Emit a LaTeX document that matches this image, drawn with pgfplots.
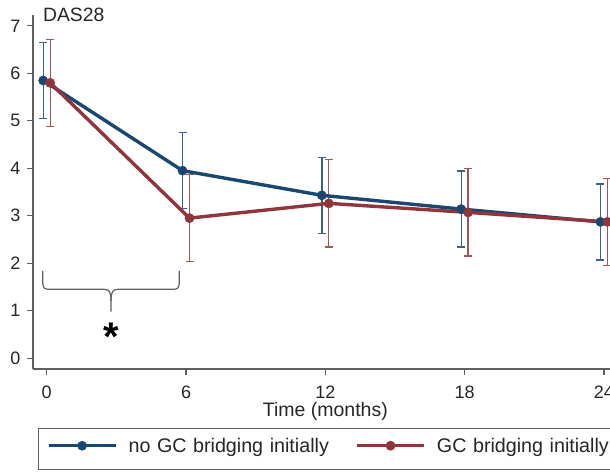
\documentclass[border=0pt]{standalone}
\usepackage{pgfplots}
\pgfplotsset{compat=1.18}
\usepackage{fontspec}
\setmainfont{Liberation Sans}
\definecolor{snavy}{RGB}{26,71,111}
\definecolor{smaroon}{RGB}{144,53,59}
\definecolor{axgray}{RGB}{95,95,95}
\begin{document}
\begin{tikzpicture}
\useasboundingbox (0,0) rectangle (610pt,471pt);
\begin{axis}[
  at={(33pt,102pt)}, anchor=south west,
  scale only axis, width=577pt, height=354pt,
  xmin=-0.59, xmax=24.26, ymin=-0.23, ymax=7.23,
  clip=false,
  axis lines*=left, axis line style={-, draw=axgray, line width=1.1pt},
  xtick={0,6,12,18,24}, ytick={0,1,...,7},
  tick align=outside, major tick length=6pt,
  every tick/.style={axgray, line width=1.1pt},
  tick label style={font=\fontsize{18}{20}\selectfont, text=black!85},
  /pgf/number format/assume math mode=true,
  xticklabel style={anchor=base, yshift=-23pt, inner sep=0pt},
  yticklabel style={anchor=east, xshift=-6.3pt, inner sep=0pt},
  legend columns=2,
  legend style={at={(0,0)}, anchor=south west, xshift=5.3pt, yshift=-101pt,
    draw=axgray, line width=1.1pt, fill=white, inner xsep=8pt, inner ysep=1.5pt,
    font=\fontsize{19.7}{22}\selectfont, text=black!85,
    nodes={inner sep=0pt, text height=22.8pt, text depth=15.2pt, anchor=base west, text width=226.7pt, align=left},
    /tikz/every odd column/.append style={column sep=11pt},
    /tikz/every even column/.append style={column sep=0pt}},
  legend image code/.code={\draw[mark repeat=2, mark phase=2, #1] plot coordinates {(0pt,7pt) (33.6pt,7pt) (67.3pt,7pt)};},
]
% error bars
\addplot[forget plot, draw=none, mark=none,
  error bars/.cd, y dir=both, y explicit, error mark=|,
  error bar style={draw=snavy!85, line width=1.3pt},
  error mark options={draw=snavy!85, line width=1.3pt, mark size=4pt}]
  coordinates {(-0.15,5.85) +- (0,0.80) (5.85,3.95) +- (0,0.80) (11.85,3.43) +- (0,0.80) (17.85,3.14) +- (0,0.80) (23.85,2.87) +- (0,0.80)};
\addplot[forget plot, draw=none, mark=none,
  error bars/.cd, y dir=both, y explicit, error mark=|,
  error bar style={draw=smaroon!85, line width=1.3pt},
  error mark options={draw=smaroon!85, line width=1.3pt, mark size=4pt}]
  coordinates {(0.15,5.80) +- (0,0.92) (6.15,2.95) +- (0,0.92) (12.15,3.26) +- (0,0.92) (18.15,3.07) +- (0,0.92) (24.15,2.87) +- (0,0.92)};
% lines
\addplot[snavy, line width=3.4pt, mark=*, mark size=4.6pt, mark options={solid, fill=snavy, line width=0.5pt}]
  coordinates {(-0.15,5.85) (5.85,3.95) (11.85,3.43) (17.85,3.14) (23.85,2.87)};
\addlegendentry{no GC bridging initially}
\addplot[smaroon, line width=3.4pt, mark=*, mark size=4.6pt, mark options={solid, fill=smaroon, line width=0.5pt}]
  coordinates {(0.15,5.80) (6.15,2.95) (12.15,3.26) (18.15,3.07) (24.15,2.87)};
\addlegendentry{GC bridging initially}
% annotations
\node[anchor=base west, inner sep=0pt, font=\fontsize{19.3}{22}\selectfont, text=black!85] at (axis cs:-0.16,7.087) {DAS28};
\node[anchor=base, inner sep=0pt, font=\fontsize{19.5}{22}\selectfont, text=black!85] at (axis cs:12,-1.236) {Time (months)};
\draw[axgray, line width=1.2pt] (axis cs:-0.17,1.84) -- (axis cs:-0.17,1.62)
  .. controls (axis cs:-0.17,1.47) and (axis cs:-0.1,1.45) .. (axis cs:0.1,1.45)
  -- (axis cs:2.45,1.45)
  .. controls (axis cs:2.7,1.45) and (axis cs:2.77,1.40) .. (axis cs:2.77,1.2)
  -- (axis cs:2.77,0.98);
\draw[axgray, line width=1.2pt] (axis cs:5.71,1.84) -- (axis cs:5.71,1.62)
  .. controls (axis cs:5.71,1.47) and (axis cs:5.64,1.45) .. (axis cs:5.44,1.45)
  -- (axis cs:3.09,1.45)
  .. controls (axis cs:2.84,1.45) and (axis cs:2.77,1.40) .. (axis cs:2.77,1.2);
\node[anchor=base, inner sep=0pt, font=\fontsize{40}{40}\bfseries\selectfont] at (axis cs:2.77,0.59) [yshift=-20pt] {*};
\end{axis}
\end{tikzpicture}
\end{document}
